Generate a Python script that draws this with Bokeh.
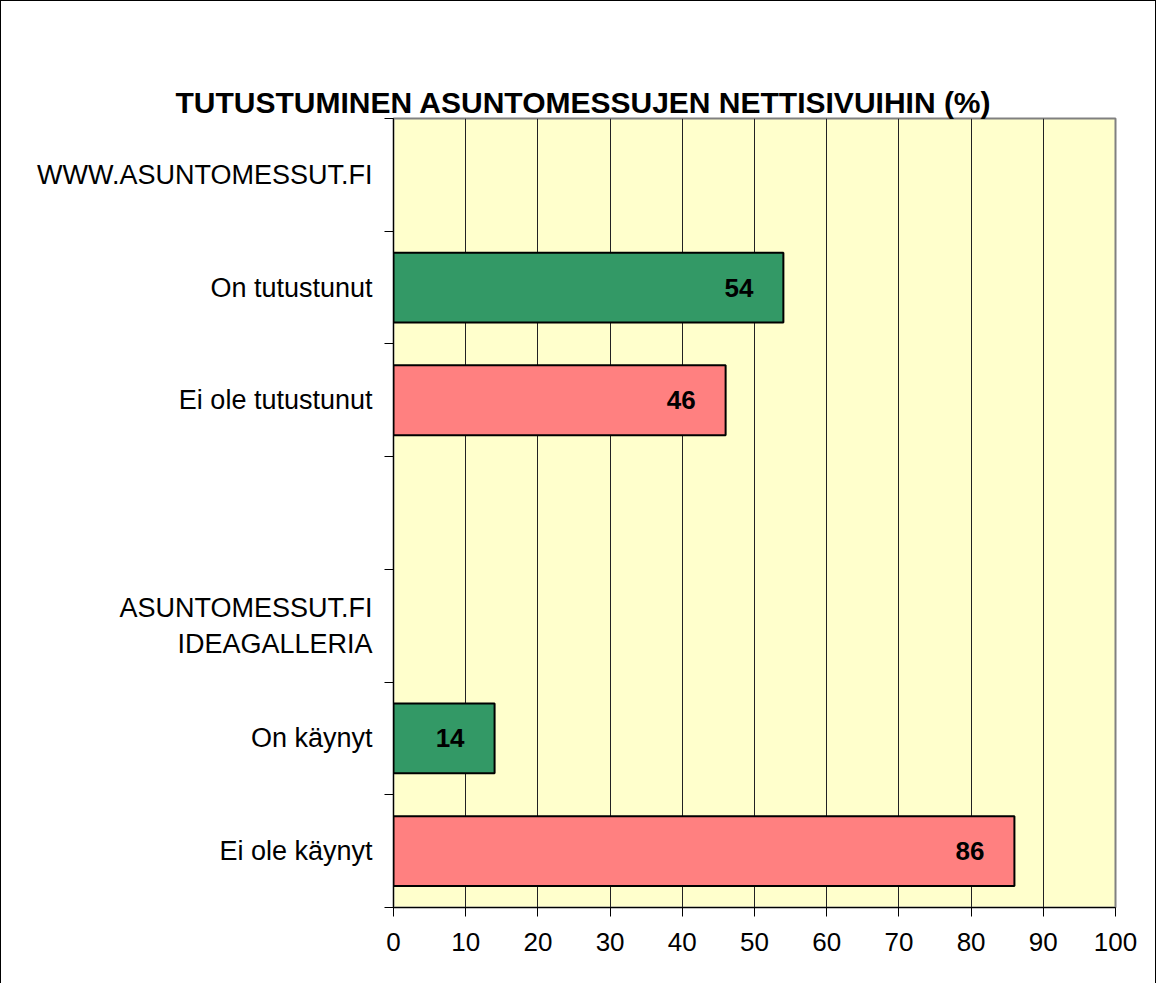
from bokeh.plotting import figure
from bokeh.models import Range1d, FixedTicker, ColumnDataSource, Title
from bokeh.core.properties import value
from bokeh.embed import file_html
from bokeh.resources import INLINE

title_text = "TUTUSTUMINEN ASUNTOMESSUJEN NETTISIVUIHIN (%)"
categories = ["WWW.ASUNTOMESSUT.FI", "On tutustunut", "Ei ole tutustunut", "",
              "ASUNTOMESSUT.FI\nIDEAGALLERIA", "On käynyt", "Ei ole käynyt"]
values = [None, 54, 46, None, None, 14, 86]
kinds = [None, "on", "ei", None, None, "on", "ei"]
x_ticks = [0, 10, 20, 30, 40, 50, 60, 70, 80, 90, 100]

GREEN = "#339966"
RED = "#FF8080"
FONT = "Liberation Sans"

n = len(categories)
centers = [i + 0.5 for i in range(n)]
bounds = list(range(n + 1))

rows = [i for i, v in enumerate(values) if v is not None]
src = ColumnDataSource(dict(
    y=[centers[i] for i in rows],
    v=[values[i] for i in rows],
    lbl=[str(values[i]) for i in rows],
    c=[GREEN if kinds[i] == "on" else RED for i in rows],
))

p = figure(width=1156, height=990, output_backend="svg", toolbar_location=None,
           x_range=Range1d(0, 100), y_range=Range1d(n, 0),
           min_border_left=392, min_border_right=42, min_border_top=117,
           min_border_bottom=84, x_axis_location="below")
p.styles = {"border": "1px solid black"}
p.border_fill_color = "white"
p.background_fill_color = "#FFFFCC"
p.outline_line_color = "#808080"
p.outline_line_width = 2

p.title.text = ""

# real title first (ends up further from the frame), then an invisible spacer
main_title = Title(text=title_text, text_font=FONT, text_font_size="30px",
                   text_font_style="bold", text_color="black", align="left",
                   offset=-218, standoff=0)
p.add_layout(main_title, "above")
spacer = Title(text="x", text_alpha=0, text_font=FONT, text_font_size="16px",
               standoff=35)
p.add_layout(spacer, "above")

p.hbar(y="y", left=0, right="v", height=0.62, source=src, fill_color="c",
       line_color="black", line_width=2)
p.text(x="v", y="y", text="lbl", source=src, x_offset=-30, text_align="right",
       text_baseline="middle", text_font=value(FONT), text_font_size="26px",
       text_font_style="bold", text_color="black")

# x axis
xa = p.xaxis[0]
xa.ticker = FixedTicker(ticks=x_ticks, minor_ticks=[])
xa.major_label_text_font = FONT
xa.major_label_text_font_size = "26px"
xa.major_label_text_color = "black"
xa.major_tick_out = 9
xa.major_tick_in = 0
xa.axis_line_color = "black"
xa.major_tick_line_color = "black"
xa.major_label_standoff = 16

# y axis
ya = p.yaxis[0]
ya.ticker = FixedTicker(ticks=centers, minor_ticks=bounds)
ya.major_label_overrides = {c: lab for c, lab in zip(centers, categories)}
ya.major_label_text_font = FONT
ya.major_label_text_font_size = "27px"
ya.major_label_text_color = "black"
ya.major_tick_out = 0
ya.major_tick_in = 0
ya.minor_tick_out = 9
ya.minor_tick_in = 0
ya.minor_tick_line_color = "black"
ya.axis_line_color = "black"
ya.major_label_standoff = 12

p.xgrid.ticker = FixedTicker(ticks=x_ticks[1:-1])
p.xgrid.grid_line_color = "#222222"
p.xgrid.grid_line_width = 1
p.ygrid.grid_line_color = None

open("out.html", "w").write(file_html(p, INLINE))
